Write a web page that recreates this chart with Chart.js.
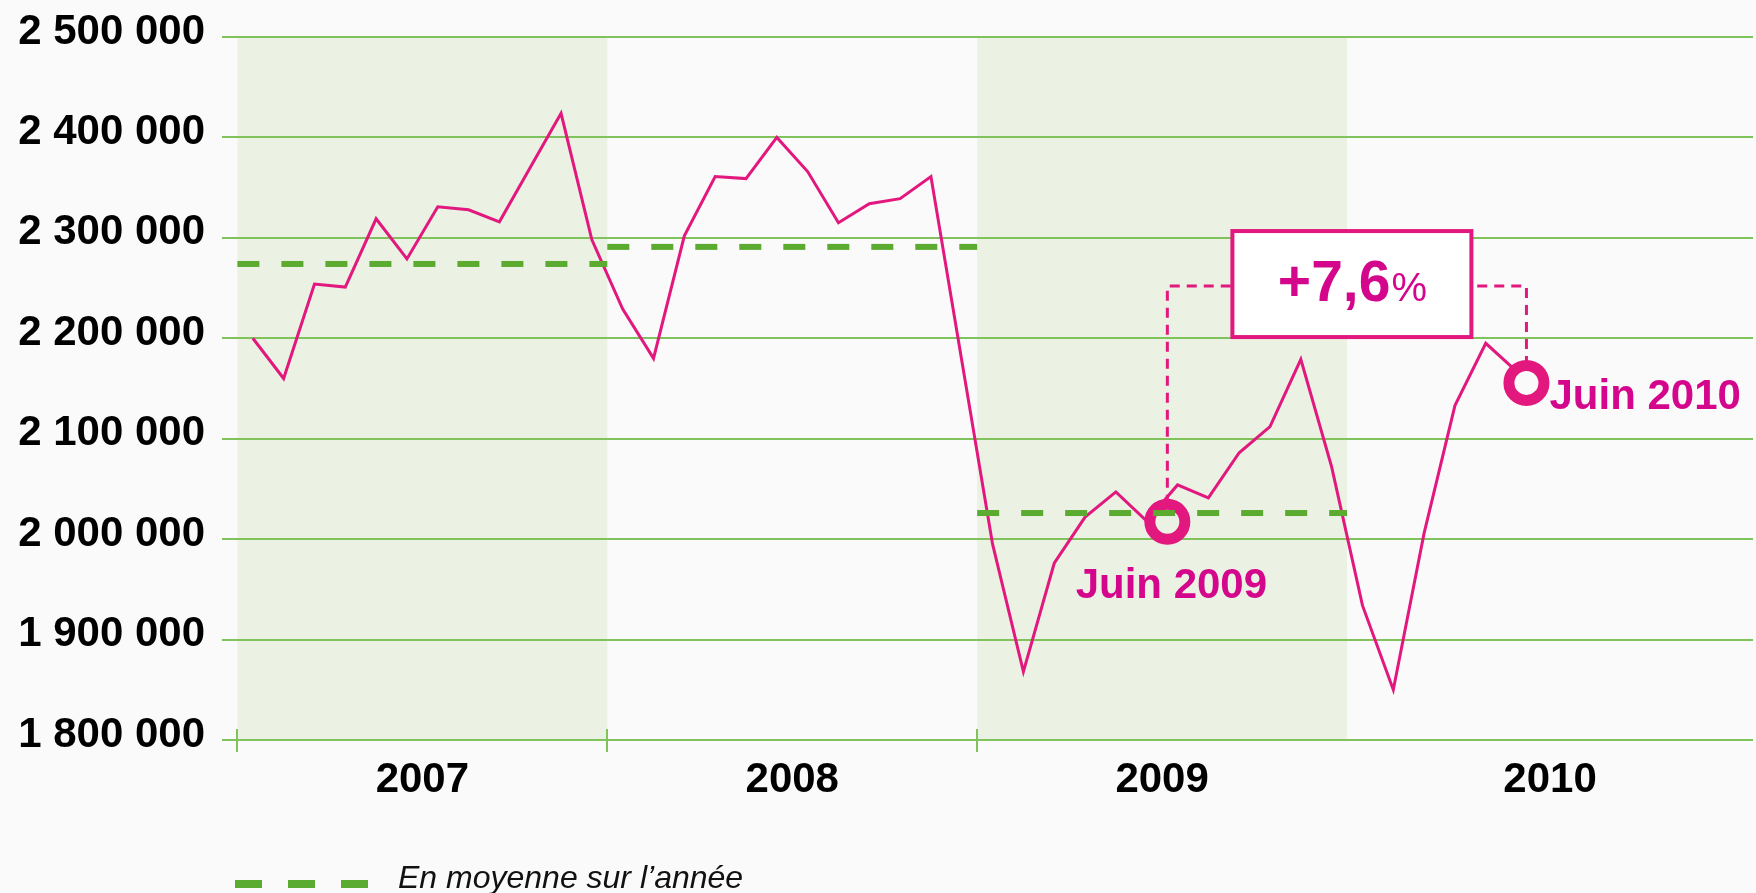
<!DOCTYPE html>
<html lang="fr">
<head>
<meta charset="utf-8">
<title>Evolution mensuelle 2007-2010</title>
<script src="https://cdn.jsdelivr.net/npm/chart.js@4.4.0/dist/chart.umd.min.js"></script>
<style>
    html, body { margin: 0; padding: 0; background: #fafafa; }
    #graphique { display: block; }
</style>
</head>
<body>
<canvas id="graphique" width="1756" height="893"></canvas>
<script>
// Annees et bandes de fond
const annees = ['2007', '2008', '2009', '2010'];
const anneesOmbrees = ['2007', '2009'];

// Valeurs mensuelles, de janvier 2007 a juin 2010
const valeursMensuelles = [
    2200000, 2160000, 2254000, 2251000, 2319000, 2279000, 2331000, 2328000, 2316000, 2370000, 2424000, 2298000,
    2229000, 2180000, 2302000, 2361000, 2359000, 2400000, 2366000, 2315000, 2334000, 2339000, 2361000, 2178000,
    1995000, 1868000, 1976000, 2022000, 2047000, 2018000, 2054000, 2041000, 2086000, 2112000, 2179000, 2072000,
    1934000, 1850000, 2006000, 2133000, 2195000, 2167000
];

// Moyenne sur l'annee (2007, 2008, 2009)
const moyennesAnnuelles = [2274000, 2291000, 2026000];

const graduationsY = [1800000, 1900000, 2000000, 2100000, 2200000, 2300000, 2400000, 2500000];

// Reperes : mois depuis janvier 2007, valeur
const reperesLibelles = ['Juin 2009', 'Juin 2010'];
const reperesMois = [30.17, 41.82];
const reperesValeurs = [2017400, 2155600];
const niveauEvolution = 2252000;
const evolutionTexte = ['+7,6', '%'];

const legendeTexte = 'En moyenne sur l\u2019année';

const ROSE = '#e2187f';
const ROSE_TEXTE = '#d4068c';
const VERT = '#5aab2f';
const VERT_GRILLE = '#80c25c';
const VERT_BANDE = '#ebf1e3';
const FOND = '#fafafa';
const POLICE = "'Liberation Sans', Arial, sans-serif";

function formatMilliers(v) {
    return String(v).replace(/\B(?=(\d{3})+(?!\d))/g, ' ');
}

function moisAnnee(a) {
    return (Number(a) - Number(annees[0])) * 12;
}

function estOmbre(m) {
    return anneesOmbrees.some(a => m >= moisAnnee(a) && m < moisAnnee(a) + 12);
}

const decor = {
    id: 'decor',
    beforeDraw(chart) {
        const { ctx, chartArea: ca } = chart;
        const x = chart.scales.x;
        ctx.save();
        ctx.fillStyle = VERT_BANDE;
        anneesOmbrees.forEach(a => {
            const x0 = x.getPixelForValue(moisAnnee(a));
            const x1 = x.getPixelForValue(moisAnnee(a) + 12);
            ctx.fillRect(x0, ca.top, x1 - x0, ca.bottom - ca.top);
        });
        ctx.restore();
    },
    beforeDatasetsDraw(chart) {
        // Liaison pointillee entre les deux reperes et cadre de l'evolution
        const { ctx } = chart;
        const { x, y } = chart.scales;
        const x1 = x.getPixelForValue(reperesMois[0]);
        const y1 = y.getPixelForValue(reperesValeurs[0]);
        const x2 = x.getPixelForValue(reperesMois[1]);
        const y2 = y.getPixelForValue(reperesValeurs[1]);
        const yn = y.getPixelForValue(niveauEvolution);
        const cx = (x1 + x2) / 2 + 5;
        const cy = yn - 2;
        const w = 239, h = 106;

        ctx.save();
        ctx.strokeStyle = ROSE;
        ctx.lineWidth = 3;
        ctx.setLineDash([10, 7]);
        ctx.beginPath();
        ctx.moveTo(x1, y1);
        ctx.lineTo(x1, yn);
        ctx.lineTo(cx - w / 2, yn);
        ctx.stroke();
        ctx.beginPath();
        ctx.moveTo(x2, y2);
        ctx.lineTo(x2, yn);
        ctx.lineTo(cx + w / 2, yn);
        ctx.stroke();

        ctx.setLineDash([]);
        ctx.fillStyle = '#ffffff';
        ctx.lineWidth = 4;
        ctx.fillRect(cx - w / 2, cy - h / 2, w, h);
        ctx.strokeRect(cx - w / 2, cy - h / 2, w, h);

        ctx.fillStyle = ROSE_TEXTE;
        ctx.textBaseline = 'alphabetic';
        ctx.textAlign = 'left';
        ctx.font = 'bold 57px ' + POLICE;
        const w1 = ctx.measureText(evolutionTexte[0]).width;
        ctx.font = '40px ' + POLICE;
        const w2 = ctx.measureText(evolutionTexte[1]).width;
        const start = cx - (w1 + w2) / 2;
        ctx.font = 'bold 57px ' + POLICE;
        ctx.fillText(evolutionTexte[0], start, cy + 17);
        ctx.font = '40px ' + POLICE;
        ctx.fillText(evolutionTexte[1], start + w1 + 1, cy + 17);
        ctx.restore();
    },
    afterDatasetsDraw(chart) {
        const { ctx } = chart;
        const { x, y } = chart.scales;
        ctx.save();
        ctx.fillStyle = ROSE_TEXTE;
        ctx.font = 'bold 42px ' + POLICE;
        ctx.textBaseline = 'alphabetic';
        const xa = x.getPixelForValue(reperesMois[0]);
        const ya = y.getPixelForValue(reperesValeurs[0]);
        ctx.textAlign = 'center';
        ctx.fillText(reperesLibelles[0], xa + 4, ya + 76);
        const xb = x.getPixelForValue(reperesMois[1]);
        const yb = y.getPixelForValue(reperesValeurs[1]);
        ctx.textAlign = 'left';
        ctx.fillText(reperesLibelles[1], xb + 23, yb + 26);
        ctx.restore();
    },
    afterDraw(chart) {
        const { ctx, chartArea: ca } = chart;
        const x = chart.scales.x;
        ctx.save();
        // graduations des annees
        ctx.strokeStyle = VERT_GRILLE;
        ctx.lineWidth = 2;
        annees.slice(0, -1).forEach(a => {
            const px = Math.round(x.getPixelForValue(moisAnnee(a)));
            ctx.beginPath();
            ctx.moveTo(px, ca.bottom - 11);
            ctx.lineTo(px, ca.bottom + 12);
            ctx.stroke();
        });
        // libelles des annees (la derniere annee occupe la fin de l'axe)
        ctx.fillStyle = '#000';
        ctx.font = 'bold 42px ' + POLICE;
        ctx.textAlign = 'center';
        ctx.textBaseline = 'alphabetic';
        annees.forEach((a, i) => {
            const x0 = x.getPixelForValue(moisAnnee(a));
            const x1 = i === annees.length - 1 ? ca.right : x.getPixelForValue(moisAnnee(a) + 12);
            ctx.fillText(a, (x0 + x1) / 2, ca.bottom + 52);
        });
        // legende
        ctx.strokeStyle = VERT;
        ctx.lineWidth = 8;
        ctx.setLineDash([27, 26]);
        ctx.beginPath();
        ctx.moveTo(235, 884);
        ctx.lineTo(369, 884);
        ctx.stroke();
        ctx.setLineDash([]);
        ctx.fillStyle = '#111';
        ctx.font = 'italic 32px ' + POLICE;
        ctx.textAlign = 'left';
        ctx.fillText(legendeTexte, 398, 888);
        ctx.restore();
    }
};

// les moyennes sont dessinees en dernier (au-dessus des reperes)
const datasets = moyennesAnnuelles.map((v, i) => {
    const debut = moisAnnee(annees[i]);
    return {
        label: legendeTexte,
        data: [{ x: debut, y: v }, { x: debut + 12, y: v }],
        borderColor: VERT,
        borderWidth: 6,
        borderDash: [22, 22],
        borderCapStyle: 'butt',
        pointRadius: 0
    };
});

datasets.push({
    label: 'Reperes',
    data: reperesMois.map((m, i) => ({ x: m, y: reperesValeurs[i] })),
    showLine: false,
    pointRadius: 17.5,
    pointHoverRadius: 17.5,
    pointBorderWidth: 11,
    pointBorderColor: ROSE,
    pointBackgroundColor: reperesMois.map(m => estOmbre(m) ? VERT_BANDE : FOND)
});

datasets.push({
    label: 'Valeur mensuelle',
    data: valeursMensuelles.map((v, i) => ({ x: i + 0.5, y: v })),
    borderColor: ROSE,
    borderWidth: 3,
    borderJoinStyle: 'miter',
    pointRadius: 0,
    tension: 0
});

new Chart(document.getElementById('graphique'), {
    type: 'line',
    data: { datasets },
    options: {
        responsive: false,
        animation: false,
        layout: { autoPadding: false, padding: { top: 37, right: 3, bottom: 153, left: 0 } },
        plugins: {
            legend: { display: false },
            tooltip: { enabled: false }
        },
        scales: {
            x: {
                type: 'linear',
                min: -0.5,
                max: 49.17,
                display: false
            },
            y: {
                min: 1800000,
                max: 2500000,
                afterBuildTicks: s => { s.ticks = graduationsY.map(v => ({ value: v })); },
                afterFit: s => { s.width = 222; },
                border: { display: false },
                grid: { color: VERT_GRILLE, lineWidth: 2, drawTicks: true, tickLength: 17, tickColor: 'rgba(0,0,0,0)' },
                ticks: {
                    color: '#000',
                    padding: 0,
                    labelOffset: -5,
                    font: { family: POLICE, size: 42, weight: 'bold' },
                    callback: v => formatMilliers(v)
                }
            }
        }
    },
    plugins: [decor]
});
</script>
</body>
</html>
